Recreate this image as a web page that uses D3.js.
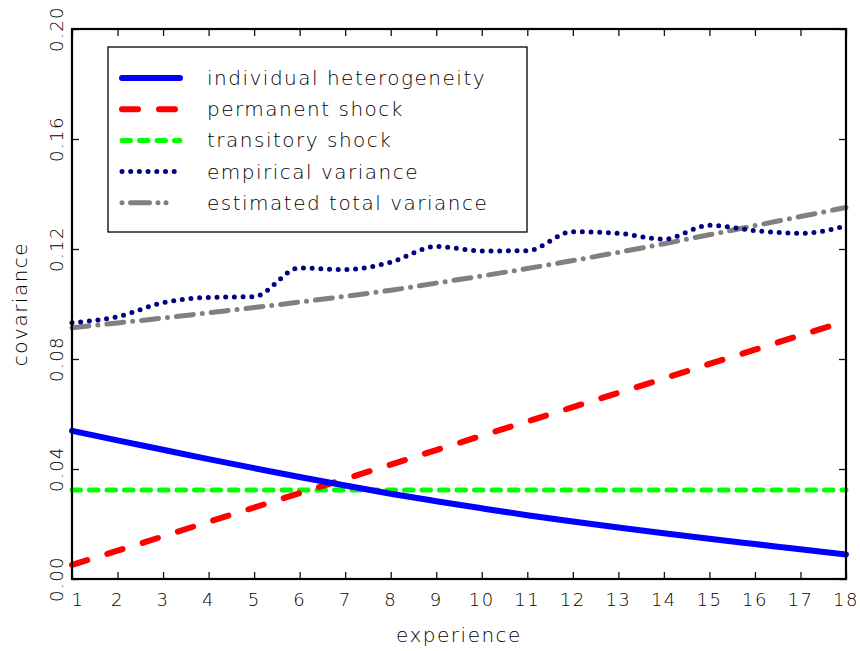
<!DOCTYPE html>
<html>
<head>
  <script src="https://cdn.jsdelivr.net/npm/d3@7"></script>
  <style>
    body { margin: 0; background: #fff; }
    text { font-family: "DejaVu Sans", sans-serif; font-weight: 200; fill: #000; }
  </style>
</head>
<body>
  <svg width="860" height="651"></svg>
  <script>
    // experience (x)
    const experience = [1, 2, 3, 4, 5, 6, 7, 8, 9, 10, 11, 12, 13, 14, 15, 16, 17, 18];

    // series
    const individualHet = [0.0539, 0.0504, 0.0470, 0.0436, 0.0403, 0.0371, 0.0340, 0.0310, 0.0283,
      0.0257, 0.0232, 0.0209, 0.0187, 0.0166, 0.0146, 0.0127, 0.0108, 0.0089];
    const permanentShock = [0.0051, 0.0103, 0.0155, 0.0208, 0.0260, 0.0312, 0.0364, 0.0416, 0.0469,
      0.0521, 0.0573, 0.0625, 0.0677, 0.0729, 0.0782, 0.0834, 0.0886, 0.0938];
    const transitoryShock = [0.0324, 0.0324, 0.0324, 0.0324, 0.0324, 0.0324, 0.0324, 0.0324, 0.0324,
      0.0324, 0.0324, 0.0324, 0.0324, 0.0324, 0.0324, 0.0324, 0.0324, 0.0324];
    const empiricalVar = [0.0932, 0.0954, 0.1005, 0.1024, 0.1027, 0.1131, 0.1125, 0.1152, 0.1209,
      0.1193, 0.1194, 0.1263, 0.1257, 0.1236, 0.1286, 0.1267, 0.1257, 0.1284];
    const estimatedTotal = [0.0914, 0.0931, 0.0949, 0.0968, 0.0987, 0.1007, 0.1028, 0.1050, 0.1076,
      0.1102, 0.1129, 0.1158, 0.1188, 0.1219, 0.1252, 0.1285, 0.1318, 0.1351];

    const yTicks = [0, 0.04, 0.08, 0.12, 0.16, 0.20];
    const legendLabels = ['individual heterogeneity', 'permanent shock', 'transitory shock',
      'empirical variance', 'estimated total variance'];

    const svg = d3.select('svg');
    const margin = { top: 29, right: 14, bottom: 72, left: 72 };
    const width = 860 - margin.left - margin.right;
    const height = 651 - margin.top - margin.bottom;

    const x = d3.scaleLinear().domain([1, 18]).range([0, width]);
    const y = d3.scaleLinear().domain([0, 0.20]).range([height, 0]);

    const g = svg.append('g').attr('transform', `translate(${margin.left},${margin.top})`);

    // series styles
    const series = [
      { name: legendLabels[0], values: individualHet, color: '#0000ff', w: 6, dash: null, curve: d3.curveMonotoneX },
      { name: legendLabels[1], values: permanentShock, color: '#ff0000', w: 6, dash: '16 21', curve: d3.curveLinear },
      { name: legendLabels[2], values: transitoryShock, color: '#00ff00', w: 5, dash: '8.5 9', curve: d3.curveLinear },
      { name: legendLabels[3], values: empiricalVar, color: '#000080', w: 5, dash: '0 8.7', curve: d3.curveMonotoneX },
      { name: legendLabels[4], values: estimatedTotal, color: '#808080', w: 5, dash: '17 9 0 9', curve: d3.curveMonotoneX }
    ];

    const plotOrder = [4, 3, 2, 1, 0];
    plotOrder.forEach(i => {
      const s = series[i];
      const line = d3.line()
        .x((d, j) => x(experience[j]))
        .y(d => y(d))
        .curve(s.curve);
      g.append('path')
        .datum(s.values)
        .attr('d', line)
        .attr('fill', 'none')
        .attr('stroke', s.color)
        .attr('stroke-width', s.w)
        .attr('stroke-linecap', 'round')
        .attr('stroke-dasharray', s.dash);
    });

    // axes with inward ticks on all four sides
    const tickLen = 7;
    const axBottom = g.append('g').attr('transform', `translate(0,${height})`)
      .call(d3.axisBottom(x).tickValues(experience).tickSize(-tickLen).tickFormat(''));
    const axTop = g.append('g')
      .call(d3.axisTop(x).tickValues(experience).tickSize(-tickLen).tickFormat(''));
    const axLeft = g.append('g')
      .call(d3.axisLeft(y).tickValues(yTicks).tickSize(-tickLen).tickFormat(''));
    const axRight = g.append('g').attr('transform', `translate(${width},0)`)
      .call(d3.axisRight(y).tickValues(yTicks).tickSize(-tickLen).tickFormat(''));
    [axBottom, axTop, axLeft, axRight].forEach(a => {
      a.select('.domain').remove();
      a.selectAll('.tick line').attr('stroke', '#111').attr('stroke-width', 1.3);
    });

    g.append('rect')
      .attr('width', width).attr('height', height)
      .attr('fill', 'none').attr('stroke', '#000').attr('stroke-width', 2.2);

    // tick labels
    g.append('g').selectAll('text')
      .data(experience)
      .join('text')
      .attr('x', d => x(d) + (d === 1 ? 6 : 0))
      .attr('y', height + 27)
      .attr('text-anchor', 'middle')
      .style('font-size', '18px')
      .style('letter-spacing', '1.5px')
      .text(d => d);

    g.append('g').selectAll('text')
      .data(yTicks)
      .join('text')
      .attr('transform', d => `translate(-9,${y(d)}) rotate(-90)`)
      .attr('text-anchor', 'middle')
      .style('font-size', '18px')
      .style('letter-spacing', '1.5px')
      .text(d => d3.format('.2f')(d));

    // axis titles
    svg.append('text')
      .attr('x', margin.left + width / 2)
      .attr('y', 642)
      .attr('text-anchor', 'middle')
      .style('font-size', '20px')
      .style('letter-spacing', '1.5px')
      .text('experience');

    svg.append('text')
      .attr('transform', `translate(27,${margin.top + height / 2}) rotate(-90)`)
      .attr('text-anchor', 'middle')
      .style('font-size', '20px')
      .style('letter-spacing', '1.5px')
      .text('covariance');

    // legend
    const legend = svg.append('g');
    legend.append('rect')
      .attr('x', 108).attr('y', 47)
      .attr('width', 419).attr('height', 185)
      .attr('fill', '#fff').attr('stroke', '#000').attr('stroke-width', 1.3);

    series.forEach((s, i) => {
      const ly = 78 + i * 31.2;
      legend.append('line')
        .attr('x1', 122).attr('x2', 180)
        .attr('y1', ly).attr('y2', ly)
        .attr('stroke', s.color)
        .attr('stroke-width', s.w)
        .attr('stroke-linecap', 'round')
        .attr('stroke-dasharray', i === 4 ? '0 8.5 19 8.5 0 8 0 40' : s.dash);
      legend.append('text')
        .attr('x', 207).attr('y', ly + 7)
        .style('font-size', '20px')
        .style('letter-spacing', '1.5px')
        .text(s.name);
    });
  </script>
</body>
</html>
